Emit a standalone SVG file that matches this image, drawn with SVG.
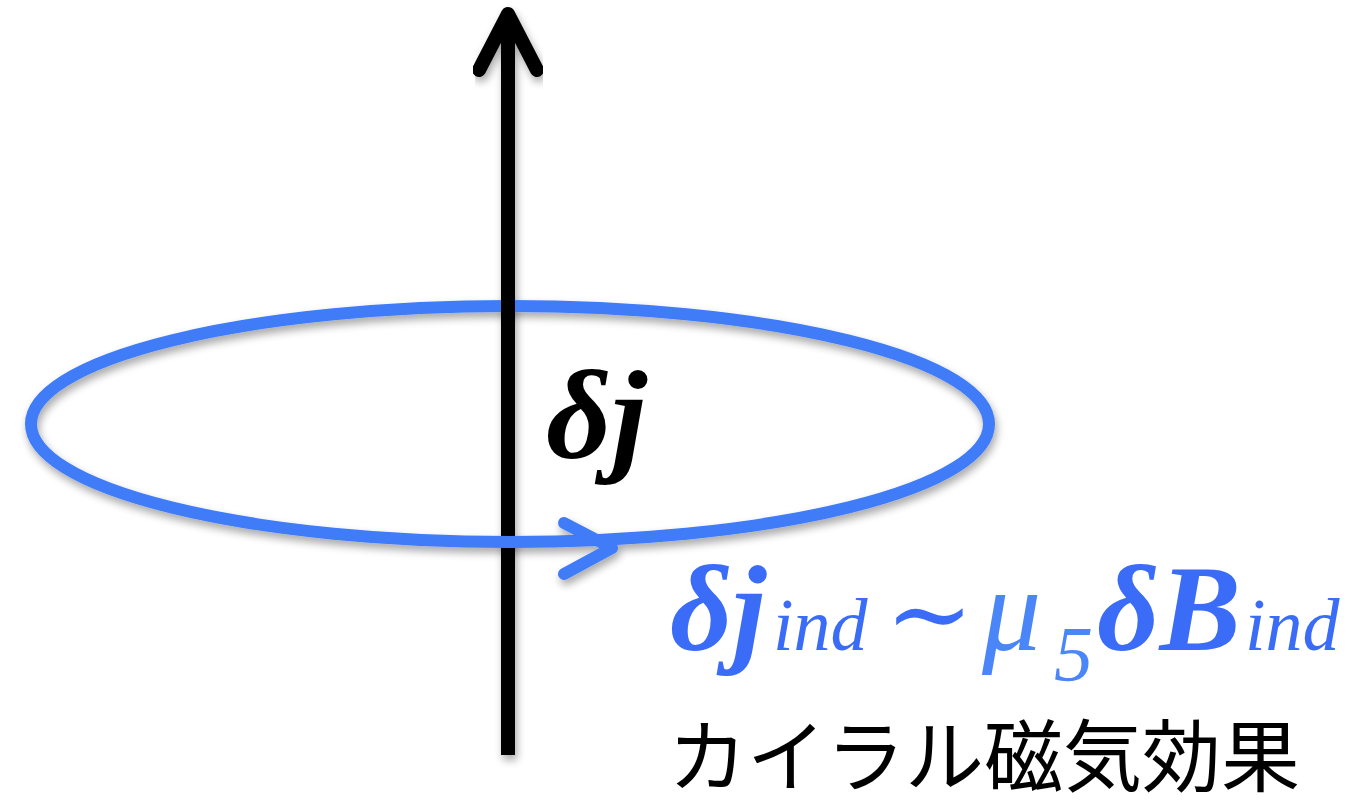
<svg xmlns="http://www.w3.org/2000/svg" width="1353" height="801" viewBox="0 0 1353 801">
<defs>
<filter id="sh" x="-10%" y="-10%" width="120%" height="130%">
<feGaussianBlur in="SourceAlpha" stdDeviation="4"/>
<feOffset dx="2" dy="5" result="b"/>
<feComponentTransfer><feFuncA type="linear" slope="0.35"/></feComponentTransfer>
<feMerge><feMergeNode/><feMergeNode in="SourceGraphic"/></feMerge>
</filter>
<style>
.blk{stroke:#000;stroke-width:14;fill:none;stroke-linecap:round;stroke-linejoin:round}
.blu{stroke:#3f7bf8;stroke-width:12;fill:none;stroke-linecap:round;stroke-linejoin:round}
.m{font-family:"Liberation Serif",serif;font-style:italic}
</style>
</defs>
<rect width="1353" height="801" fill="#fff"/>
<g id="connectors">
<g id="axis" filter="url(#sh)">
<line class="blk" x1="508" y1="755" x2="508" y2="14" style="stroke-linecap:butt"/>
<polyline class="blk" points="479,70 508,14 537,70"/>
</g>
<g id="loop" filter="url(#sh)">
<ellipse class="blu" cx="510" cy="424" rx="479" ry="118"/>
<polyline class="blu" points="564,523 612,548 564,574"/>
</g>
<line class="blk" x1="508" y1="295" x2="508" y2="320" style="stroke-linecap:butt"/>
</g>
<g id="label-dj">
<text class="m" x="546" y="458" font-size="128" font-weight="bold" fill="#000">δj</text>
</g>
<g id="label-eq">
<text class="m" y="650" fill="#3a6cf7"><tspan x="670" font-size="122" font-weight="bold">δj</tspan><tspan x="773" font-size="74">ind</tspan><tspan x="885" font-size="106" font-style="normal" font-family="'DejaVu Serif',serif">∼</tspan><tspan x="982" font-size="118" fill="#4a86f8">μ</tspan><tspan x="1054" font-size="78" dy="30" fill="#4a86f8">5</tspan><tspan x="1097" dy="-30" font-size="122" font-weight="bold">δB</tspan><tspan x="1245" font-size="74">ind</tspan></text>
</g>
<g id="label-jp">
<text x="668" y="786" font-size="79" font-family="'Noto Sans CJK JP',sans-serif" fill="#000">カイラル磁気効果</text>
</g>
</svg>
